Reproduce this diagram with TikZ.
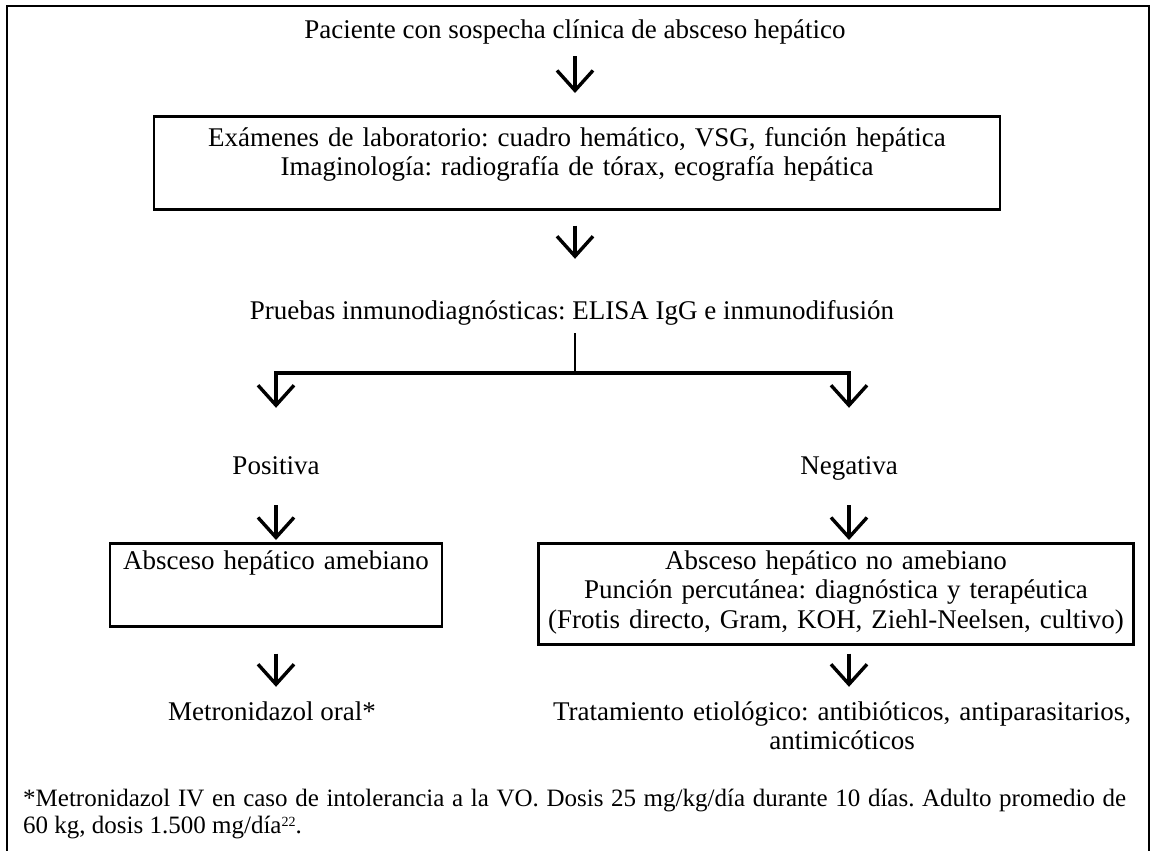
\documentclass[tikz,border=0pt]{standalone}
\usepackage{fontspec}
\setmainfont{Liberation Serif}
\usetikzlibrary{arrows.meta}
\frenchspacing
\newcommand\mainfs{\fontsize{27}{29.5}\selectfont}
\newcommand\fnfs{\fontsize{25}{27}\selectfont}
\newcommand\fnsup[1]{\raisebox{7pt}{\fontsize{14}{14}\selectfont #1}}
\tikzset{
  txt/.style={inner sep=0pt, anchor=base, font=\mainfs, text height=19pt, text depth=7pt},
  fntxt/.style={inner sep=0pt, anchor=base west, font=\fnfs, text height=16pt, text depth=5pt},
  boxnode/.style={draw, line width=2.6pt, inner sep=0pt, anchor=north, font=\mainfs, align=center},
  arr/.style={line width=3.4pt, -{Straight Barb[length=20pt,width=36pt]}},
  link/.style={line width=2.8pt},
  frame/.style={line width=2.6pt}
}
\begin{document}
\begin{tikzpicture}[x=1pt,y=-1pt]
\useasboundingbox (0,0) rectangle (1157,851);
\draw[frame] (7,851) -- (7,6) -- (1149,6) -- (1149,851);

\node[txt] (title) at (575,39) {Paciente con sospecha clínica de absceso hepático};
\node[boxnode, text width=846pt, text height=30pt, text depth=63pt] (exam) at (577,115)
  {Exámenes de laboratorio: cuadro hemático, VSG, función hepática\\Imaginología: radiografía de tórax, ecografía hepática};
\draw[arr, shorten <=10pt, shorten >=22pt] (title.south) -- (title.south |- exam.north);

\node[txt] (prue) at (572,319) {Pruebas inmunodiagnósticas: ELISA IgG e inmunodifusión};
\draw[arr, shorten <=15pt, shorten >=41pt] (title.south |- exam.south) -- (title.south |- prue.north);

\coordinate (br) at (575,373);
\node[txt] (pos) at (276,474) {Positiva};
\node[txt] (neg) at (849,474) {Negativa};
\draw[link, shorten <=7pt] (prue.south -| br) -- (br);
\draw[arr, shorten >=47pt] (br) -| (pos.north);
\draw[arr, shorten >=47pt] (br) -| (neg.north);

\node[boxnode, text width=332pt, text height=26pt, text depth=57pt] (lbox) at (276,542)
  {Absceso hepático amebiano};
\node[boxnode, text width=595pt, text height=26pt, text depth=75pt] (rbox) at (836,542)
  {Absceso hepático no amebiano\\Punción percutánea: diagnóstica y terapéutica\\(Frotis directo, Gram, KOH, Ziehl-Neelsen, cultivo)};
\draw[arr, shorten <=24pt, shorten >=2pt] (pos.south) -- (pos.south |- lbox.north);
\draw[arr, shorten <=24pt, shorten >=2pt] (neg.south) -- (neg.south |- rbox.north);

\node[txt] (metro) at (272,720) {Metronidazol oral*};
\node[txt, align=center, text width=620pt, text depth=37pt] (trat) at (842,720)
  {Tratamiento etiológico: antibióticos, antiparasitarios,\\antimicóticos};
\draw[arr, shorten <=26pt, shorten >=14pt] (lbox.south) -- (lbox.south |- metro.north);
\draw[arr, shorten <=8pt, shorten >=14pt] (rbox.south -| neg) -- (trat.north -| neg);

\node[fntxt] (fn1) at (23,806)
  {\makebox[1103pt][s]{*Metronidazol IV en caso de intolerancia a la VO. Dosis 25 mg/kg/día durante 10 días. Adulto promedio de}};
\node[fntxt] (fn2) at (23,833)
  {60 kg, dosis 1.500 mg/día\fnsup{22}.};
\end{tikzpicture}
\end{document}
